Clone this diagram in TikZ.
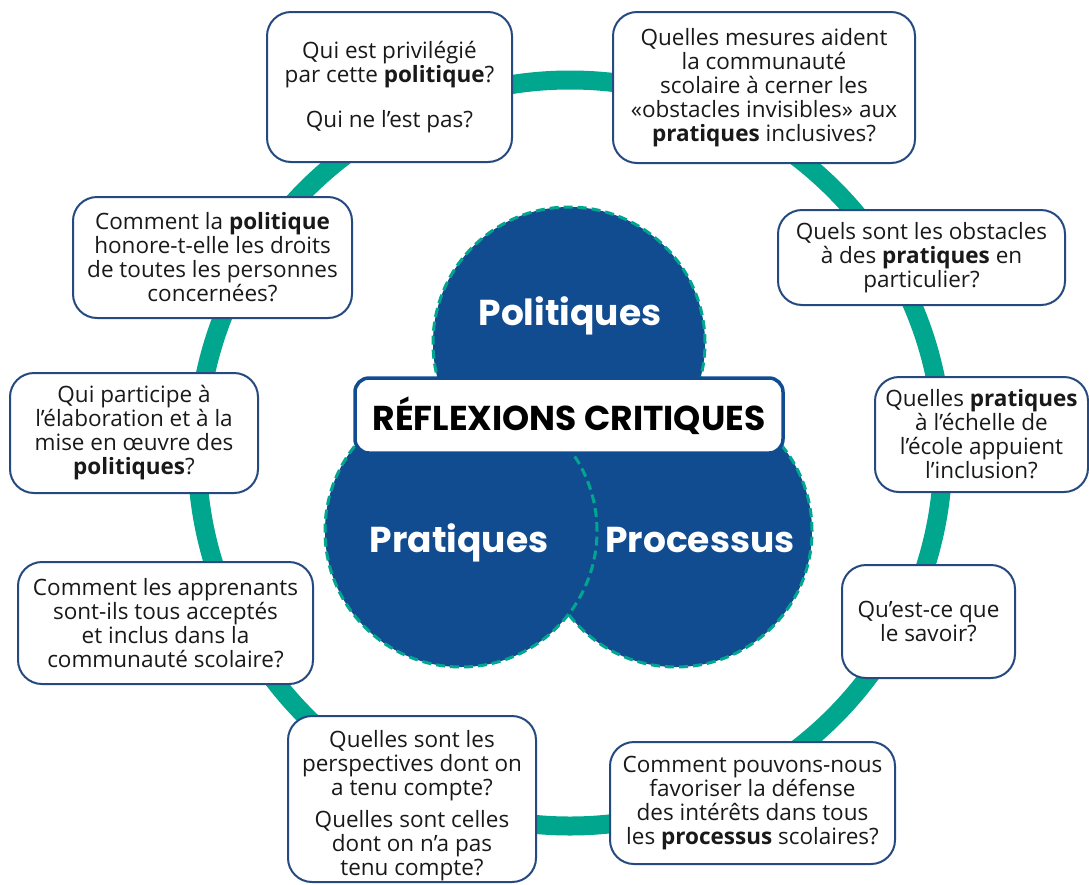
\documentclass[tikz,border=0pt]{standalone}
\usepackage{fontspec}
\setmainfont{Open Sans}
\newfontfamily\popfont{Poppins}
\definecolor{ringteal}{RGB}{0,166,142}
\definecolor{circblue}{RGB}{17,76,145}
\definecolor{boxline}{RGB}{38,74,128}
\definecolor{qtext}{RGB}{25,25,25}
\begin{document}
\begin{tikzpicture}[x=1pt,y=-1pt,
  qfont/.style={align=center, text=qtext, font=\fontsize{22.5}{24}\selectfont, inner sep=0pt},
  qbox/.style={qfont, draw=boxline, line width=2pt, fill=white, rounded corners=24pt},
  venn/.style={circle, fill=circblue, draw=ringteal, line width=3pt,
    dash pattern=on 9pt off 5pt, minimum size=272pt, inner sep=0pt},
  vlabel/.style={text=white, font=\popfont\bfseries\fontsize{36}{40}\selectfont, anchor=base, inner sep=0pt},
  banner/.style={draw=circblue, line width=3.5pt, fill=white, rounded corners=14pt,
    minimum width=428pt, minimum height=75pt, inner sep=0pt},
]
\useasboundingbox (0,0) rectangle (1089,884);
\fill[white] (0,0) rectangle (1089,884);
% ring
\draw[ringteal, line width=19pt] (570,453) circle[radius=373pt];
% Venn circles
\node[venn] (cpol) at (569,343) {};
\node[venn] (cpro) at (676,531) {};
\node[venn] (cpra) at (461,531) {};
\node[vlabel] (lpol) at (570,325) {Politiques};
\node[vlabel] (lpra) at (459,552) {Pratiques};
\node[vlabel] (lpro) at (700,552) {Processus};
% banner
\node[banner] (ban) at (569,415.5) {};
\node[anchor=base, inner sep=0pt, font=\popfont\bfseries\fontsize{34.5}{36}\selectfont, text=black] (lban) at (569,430) {RÉFLEXIONS CRITIQUES};
% question boxes
\node[qbox, minimum width=245pt, minimum height=150pt] (b1) at (389.5,87)
  {Qui est privilégié\\ par cette \textbf{politique}?\\[21pt] Qui ne l’est pas?};
\node[qbox, minimum width=302pt, minimum height=151pt] (b2) at (764,87.5)
  {Quelles mesures aident\\ la communauté\\ scolaire à cerner les\\ «obstacles invisibles» aux\\ \textbf{pratiques} inclusives?};
\node[qbox, minimum width=279pt, minimum height=121pt] (b3) at (212.5,257.5)
  {Comment la \textbf{politique}\\ honore-t-elle les droits\\ de toutes les personnes\\ concernées?};
\node[qbox, minimum width=248pt, minimum height=120pt] (b4) at (134,433)
  {Qui participe à\\ l’élaboration et à la\\ mise en œuvre des\\ \textbf{politiques}?};
\node[qbox, minimum width=287pt, minimum height=95pt] (b5) at (921.5,257.5)
  {Quels sont les obstacles\\ à des \textbf{pratiques} en\\ particulier?};
\node[qbox, minimum width=213pt, minimum height=115pt] (b6) at (981.5,434.5)
  {Quelles \textbf{pratiques}\\ à l’échelle de\\ l’école appuient\\ l’inclusion?};
\node[qbox, minimum width=295pt, minimum height=122pt] (b7) at (165.5,623)
  {Comment les apprenants\\ sont-ils tous acceptés\\ et inclus dans la\\ communauté scolaire?};
\node[qbox, minimum width=173pt, minimum height=113pt] (b8) at (928.5,621.5)
  {Qu’est-ce que\\ le savoir?};
\node[qbox, minimum width=248pt, minimum height=166pt] (b9) at (412,799) {};
\node[qfont] (t9) at (412,806)
  {Quelles sont les\\ perspectives dont on\\ a tenu compte?\\[8pt] Quelles sont celles\\ dont on n’a pas\\ tenu compte?};
\node[qbox, minimum width=285pt, minimum height=122pt] (b10) at (752.5,803)
  {Comment pouvons-nous\\ favoriser la défense\\ des intérêts dans tous\\ les \textbf{processus} scolaires?};
\end{tikzpicture}
\end{document}
